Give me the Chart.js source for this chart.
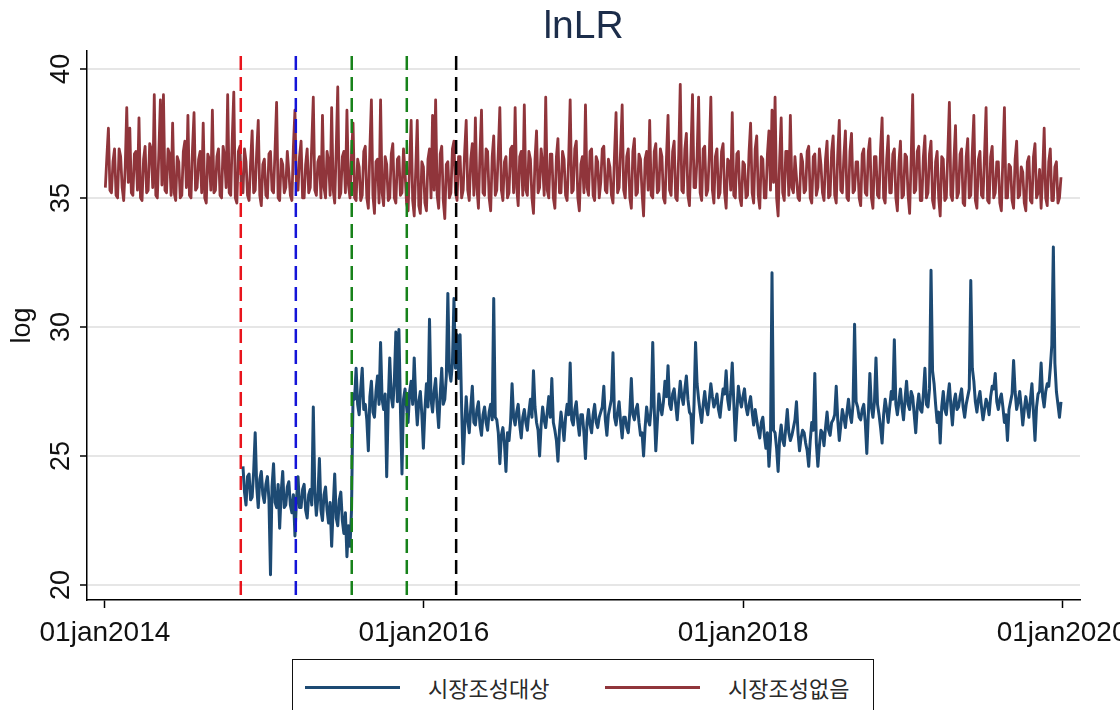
<!DOCTYPE html>
<html>
<head>
<meta charset="utf-8">
<title>lnLR</title>
<script src="https://cdn.jsdelivr.net/npm/chart.js@4.4.1/dist/chart.umd.min.js"></script>
<style>
  html, body { margin: 0; padding: 0; background: #fff; overflow: hidden; }
  #wrap { position: relative; width: 1120px; height: 710px; }
  #chart { position: absolute; left: 0; top: 0; }
  #legend {
    position: absolute; left: 292px; top: 659px; width: 582px; height: 70px;
    box-sizing: border-box; border: 1.5px solid #111; background: #fff;
    font-family: "Noto Sans CJK KR", "Noto Sans", sans-serif; font-size: 22px; color: #2a2a2a;
  }
  .item { position: absolute; top: 13px; height: 28px; line-height: 28px; display: flex; align-items: center; white-space: nowrap; }
  .swatch { display: inline-block; width: 95px; height: 3px; margin-right: 28px; }
</style>
</head>
<body>
<div id="wrap">
  <canvas id="chart" width="1120" height="710"></canvas>
  <div id="legend"></div>
</div>
<script>
// lnLR observations, two per week: a weekly array (Thursdays) and a
// mid-week array (3.5 days later), one pair of arrays per calendar year.
const weekStart = '2014-01-02';
const stepDays = 7;
const midOffset = 3.5;

// 시장조성없음 (no market making), from the first week of 2014
const red2014 = [
  35.4, 37.7, 35.2, 36.9, 35.0, 36.6, 34.9, 38.5, 37.7, 35.1,
  36.8, 38.1, 34.9, 37.0, 35.3, 36.9, 39.0, 35.0, 38.8, 39.0,
  35.2, 36.7, 37.9, 34.9, 36.4, 35.1, 37.2, 38.2, 35.0, 38.3,
  35.4, 36.8, 37.9, 34.8, 36.5, 38.4, 35.3, 36.9, 35.0, 36.6,
  39.0, 35.1, 39.1, 34.8, 37.0, 35.2, 36.4, 34.9, 37.6, 35.3,
  38.0, 34.7
];
const red2014mid = [
  36.6, 35.3, 36.4, 35.1, 36.9, 35.4, 36.2, 35.6, 35.2, 36.7,
  35.3, 35.0, 36.5, 35.2, 37.1, 35.4, 35.1, 36.8, 35.5, 35.3,
  36.9, 35.1, 35.2, 36.6, 35.0, 36.8, 35.4, 35.1, 36.9, 35.3,
  36.5, 35.2, 35.0, 36.7, 35.3, 35.2, 36.6, 35.1, 37.0, 35.4,
  35.2, 37.3, 35.0, 36.8, 35.3, 36.9, 35.1, 36.4, 35.2, 36.8,
  35.1, 36.3
];
const red2015 = [
  36.5, 35.0, 36.8, 35.2, 38.7, 34.9, 36.3, 35.4, 36.0, 34.9,
  38.4, 35.3, 37.2, 35.0, 36.9, 35.4, 38.9, 35.1, 36.6, 38.2,
  35.0, 36.4, 38.5, 34.8, 39.3, 35.2, 36.8, 38.4, 35.0, 37.9,
  34.9, 36.2, 35.1, 37.0, 34.6, 38.8, 34.4, 36.5, 38.8, 34.7,
  36.3, 35.0, 37.1, 34.8, 36.6, 35.2, 36.0, 34.5, 38.0, 34.3,
  38.0, 34.4
];
const red2015mid = [
  35.1, 36.7, 35.3, 36.9, 35.0, 36.5, 35.2, 36.8, 35.1, 37.0,
  35.4, 36.6, 35.0, 36.3, 35.2, 37.1, 35.3, 36.4, 35.0, 35.4,
  36.8, 35.1, 35.3, 36.9, 35.0, 36.6, 35.2, 35.5, 36.7, 35.0,
  36.5, 34.9, 36.8, 35.0, 36.9, 35.1, 36.4, 34.8, 35.2, 36.6,
  34.9, 36.7, 35.0, 36.5, 35.1, 36.9, 34.8, 36.3, 34.9, 36.1,
  34.7, 36.4
];
const red2016 = [
  36.2, 34.5, 36.9, 38.2, 38.8, 34.6, 37.0, 34.2, 36.4, 35.2,
  37.2, 34.9, 36.6, 35.3, 38.0, 34.9, 37.1, 38.1, 34.6, 38.4,
  35.1, 36.8, 34.5, 37.4, 35.3, 38.5, 34.9, 36.6, 35.2, 37.0,
  38.5, 34.7, 36.8, 38.6, 35.1, 36.5, 34.4, 37.6, 35.4, 36.3,
  38.9, 35.0, 36.7, 34.6, 37.3, 35.2, 36.5, 34.9, 38.8, 35.3,
  37.2, 34.5
];
const red2016mid = [
  34.8, 36.5, 35.0, 35.3, 35.1, 36.7, 34.9, 36.3, 35.0, 36.9,
  35.2, 36.6, 35.0, 36.8, 35.3, 36.5, 35.1, 35.4, 36.7, 35.2,
  36.9, 35.0, 36.6, 35.1, 36.8, 35.3, 36.4, 35.0, 36.9, 35.2,
  35.4, 36.6, 35.1, 35.3, 36.8, 35.0, 36.5, 35.2, 36.9, 35.1,
  35.3, 36.7, 35.0, 36.6, 35.2, 36.8, 35.1, 36.5, 35.2, 36.9,
  35.0, 36.3
];
const red2017 = [
  36.6, 38.6, 35.1, 36.9, 34.9, 36.4, 35.6, 37.0, 35.2, 36.2,
  34.8, 38.3, 35.4, 38.6, 35.0, 36.9, 34.6, 37.3, 35.2, 36.5,
  34.3, 36.8, 38.0, 35.0, 37.1, 35.3, 36.6, 34.8, 38.2, 35.1,
  37.2, 34.9, 39.4, 35.2, 37.5, 34.7, 39.0, 35.4, 38.9, 34.9,
  37.0, 35.3, 38.9, 34.8, 36.9, 35.2, 37.1, 34.6, 36.4, 38.3,
  35.0, 36.8
];
const red2017mid = [
  35.2, 35.4, 36.8, 35.1, 36.6, 35.0, 36.9, 35.3, 36.5, 35.1,
  36.7, 35.2, 36.9, 35.3, 36.6, 35.0, 36.8, 35.1, 36.7, 35.2,
  36.5, 35.3, 35.1, 36.8, 35.2, 36.9, 35.0, 36.6, 35.3, 36.8,
  35.0, 36.7, 35.3, 36.9, 35.1, 36.8, 35.4, 36.6, 35.2, 36.9,
  35.1, 36.7, 35.3, 36.6, 35.0, 36.8, 35.2, 36.5, 35.3, 35.1,
  36.7, 35.0
];
const red2018 = [
  34.7, 36.3, 35.1, 37.9, 34.8, 37.4, 34.6, 36.5, 35.0, 37.6,
  38.4, 38.9, 34.3, 38.1, 34.9, 36.8, 38.2, 35.2, 35.8, 34.9,
  36.4, 35.3, 37.0, 34.8, 36.7, 35.4, 36.3, 34.9, 37.2, 35.1,
  37.4, 34.8, 38.0, 35.2, 37.6, 34.9, 37.5, 35.3, 36.4, 34.7,
  36.9, 35.1, 37.3, 34.6, 36.6, 35.0, 38.1, 34.8, 37.4, 35.2,
  36.9, 34.5
];
const red2018mid = [
  36.4, 35.0, 36.8, 35.2, 36.9, 35.1, 36.6, 35.0, 36.7, 35.3,
  35.6, 35.0, 36.5, 35.2, 36.8, 35.1, 35.4, 36.6, 35.0, 36.7,
  35.2, 36.8, 35.0, 36.6, 35.1, 36.9, 35.2, 36.5, 35.0, 36.8,
  35.1, 36.7, 35.3, 36.6, 35.0, 36.8, 35.2, 36.4, 35.0, 36.7,
  35.2, 36.8, 35.0, 36.6, 35.1, 36.9, 35.0, 36.5, 35.2, 36.7,
  35.0, 36.4
];
const red2019 = [
  37.2, 35.1, 36.6, 34.4, 39.0, 35.3, 37.0, 34.9, 37.4, 35.2,
  37.2, 34.6, 36.8, 34.3, 36.5, 35.0, 38.7, 34.9, 37.8, 35.2,
  36.9, 34.7, 37.3, 35.1, 38.2, 34.6, 36.8, 35.0, 38.5, 34.8,
  37.0, 35.2, 36.4, 34.5, 38.5, 35.0, 36.2, 34.6, 37.2, 35.1,
  36.0, 34.5, 36.6, 34.8, 37.1, 35.2, 34.6, 37.7, 34.7, 36.9,
  34.9, 36.4, 35.0
];
const red2019mid = [
  35.0, 36.7, 35.1, 36.5, 35.2, 36.8, 34.9, 36.6, 35.0, 36.7,
  34.9, 36.4, 35.0, 36.6, 34.9, 36.8, 35.1, 36.5, 35.0, 36.7,
  34.8, 36.6, 35.0, 36.8, 34.9, 36.5, 35.1, 36.7, 34.9, 36.6,
  35.0, 36.4, 34.8, 36.6, 35.0, 36.3, 34.9, 36.5, 35.0, 36.2,
  34.8, 36.4, 34.9, 36.6, 35.0, 36.1, 35.9, 35.0, 36.4, 34.9,
  36.2, 34.8, 35.8
];

// 시장조성대상 (market-making targets), observed from mid-November 2014
const blueStart = '2014-11-13';
const blue2014 = [24.6, 23.1, 24.3, 23.4, 25.9, 23.0, 24.4];
const blue2014mid = [23.6, 24.2, 23.3, 24.4, 23.8, 24.1, 23.5];
const blue2015 = [
  23.2, 24.2, 20.4, 24.7, 23.0, 22.2, 24.4, 23.1, 24.0, 22.8,
  21.9, 24.2, 23.0, 23.9, 22.6, 23.7, 26.9, 22.7, 24.9, 22.5,
  23.8, 22.4, 21.5, 24.3, 22.3, 23.6, 22.0, 21.1, 21.5, 27.4,
  28.4, 26.6, 28.4, 27.0, 25.2, 27.9, 26.5, 28.1, 29.4, 26.8,
  24.2, 28.8, 26.9, 29.8, 29.9, 24.3, 27.6, 26.3, 27.9, 28.8,
  26.2, 27.5
];
const blue2015mid = [
  23.9, 23.3, 23.8, 23.2, 23.9, 23.6, 23.0, 23.8, 23.1, 23.5,
  23.3, 23.0, 23.7, 22.9, 23.5, 23.1, 23.6, 23.4, 22.9, 23.5,
  22.9, 23.2, 23.0, 22.6, 23.3, 22.5, 22.8, 22.3, 22.9, 27.2,
  27.0, 27.6, 26.8, 26.4, 27.3, 26.7, 27.5, 27.0, 27.2, 27.4,
  27.0, 27.3, 27.9, 27.1, 26.8, 27.2, 26.9, 27.5, 27.0, 27.2,
  27.1, 26.6
];
const blue2016 = [
  25.3, 27.8, 30.3, 26.7, 28.0, 26.1, 28.4, 27.2, 31.3, 27.9,
  31.1, 29.7, 29.7, 24.7, 27.3, 25.9, 27.7, 26.2, 27.1, 25.8,
  26.9, 26.0, 27.0, 31.1, 26.4, 24.7, 26.1, 24.4, 25.6, 27.8,
  26.2, 27.0, 25.7, 26.8, 26.0, 27.2, 28.3, 26.3, 25.0, 26.9,
  26.1, 27.3, 28.0, 26.0, 24.8, 26.7, 25.6, 27.0, 28.6, 26.2,
  27.1, 25.8
];
const blue2016mid = [
  26.8, 26.9, 27.2, 27.5, 26.9, 27.4, 27.0, 28.1, 28.3, 28.6,
  28.4, 28.0, 26.9, 26.1, 26.4, 26.9, 26.3, 26.8, 26.2, 26.6,
  26.3, 26.7, 26.4, 26.5, 25.9, 25.8, 25.5, 25.9, 26.3, 26.5,
  26.7, 26.2, 26.5, 26.3, 26.7, 26.5, 26.9, 26.0, 26.2, 26.4,
  26.7, 26.5, 26.3, 25.6, 26.0, 26.2, 26.5, 26.6, 26.4, 26.8,
  26.3, 26.6
];
const blue2017 = [
  26.6, 24.9, 26.8, 25.9, 27.0, 26.1, 26.7, 27.7, 25.8, 26.9,
  29.0, 26.2, 27.1, 25.7, 26.5, 25.9, 28.0, 26.4, 27.0, 25.8,
  25.0, 26.9, 26.2, 29.4, 25.2, 27.4, 26.6, 27.9, 28.5, 26.8,
  27.6, 26.4, 27.9, 27.0, 28.1, 26.7, 25.5, 29.4, 27.2, 26.3,
  27.5, 26.6, 27.8, 26.9, 27.4, 26.5, 27.6, 28.3, 26.8, 28.6,
  25.6, 27.7
];
const blue2017mid = [
  25.9, 26.3, 26.2, 26.6, 26.3, 26.5, 26.9, 26.4, 26.6, 27.2,
  26.5, 26.7, 26.3, 26.5, 26.1, 26.7, 26.6, 26.8, 26.3, 25.9,
  26.1, 26.4, 26.9, 26.8, 26.3, 26.9, 27.1, 27.3, 27.0, 27.4,
  27.0, 27.2, 27.3, 27.6, 27.2, 26.6, 27.0, 27.8, 26.7, 27.0,
  26.9, 27.2, 27.3, 27.1, 26.8, 27.1, 27.4, 27.2, 27.5, 27.1,
  26.7, 27.2
];
const blue2018 = [
  26.9, 27.6, 26.6, 27.3, 26.2, 26.4, 25.7, 26.5, 25.3, 24.6,
  32.1, 25.9, 24.4, 26.2, 25.4, 26.8, 25.6, 26.1, 27.1, 25.2,
  26.0, 25.5, 24.6, 26.3, 28.2, 24.6, 26.0, 25.4, 26.7, 25.8,
  26.4, 27.7, 25.6, 26.8, 26.1, 27.2, 26.3, 30.1, 26.9, 26.4,
  27.0, 25.1, 28.2, 26.5, 28.8, 26.6, 25.5, 27.2, 26.3, 27.5,
  29.5, 26.6
];
const blue2018mid = [
  27.3, 26.9, 27.0, 26.7, 26.8, 26.0, 26.3, 25.8, 25.9, 25.6,
  26.0, 25.3, 25.7, 25.6, 26.1, 25.9, 25.8, 26.4, 25.9, 25.7,
  25.9, 25.2, 25.6, 26.0, 25.5, 25.4, 25.9, 26.1, 26.0, 26.3,
  26.6, 26.4, 26.2, 26.5, 26.7, 26.6, 27.0, 27.1, 26.5, 26.8,
  26.3, 26.6, 26.9, 27.1, 27.0, 26.1, 26.6, 26.8, 26.9, 27.2,
  27.0, 27.1
];
const blue2019 = [
  27.6, 26.4, 27.9, 26.8, 27.3, 25.9, 27.4, 26.7, 28.4, 26.9,
  32.2, 27.8, 26.3, 25.5, 27.5, 26.6, 27.8, 26.2, 27.4, 26.9,
  27.6, 26.5, 27.3, 31.8, 27.9, 26.7, 27.5, 26.4, 27.2, 26.6,
  27.7, 28.2, 26.8, 27.4, 26.3, 25.6, 27.1, 28.7, 26.8, 27.5,
  26.2, 27.3, 26.5, 27.8, 25.6, 27.4, 28.6, 26.9, 27.8, 28.4,
  33.1, 27.5, 26.5
];
const blue2019mid = [
  26.9, 27.2, 27.0, 27.5, 26.6, 26.9, 26.8, 27.4, 27.0, 27.6,
  28.3, 27.0, 26.7, 26.9, 26.8, 27.3, 26.9, 27.1, 26.8, 27.3,
  26.9, 27.0, 27.6, 28.4, 27.1, 27.2, 26.9, 26.8, 27.0, 27.3,
  27.6, 27.1, 27.2, 26.9, 26.6, 26.8, 27.4, 27.5, 27.1, 26.9,
  26.8, 26.9, 27.2, 26.7, 26.9, 27.5, 27.3, 27.5, 27.7, 29.3,
  28.6, 27.0, 27.1
];

// Axis ticks and event dates
const xTickDates = ['2014-01-01', '2016-01-01', '2018-01-01', '2020-01-01'];
const xTickLabels = ['01jan2014', '01jan2016', '01jan2018', '01jan2020'];
const yTicks = [20, 25, 30, 35, 40];
const axisStart = '2013-11-21';
const axisEnd = '2020-02-11';
const yMin = 19.42, yMax = 40.7, lineTop = 40.5;
const eventDates = ['2014-11-08', '2015-03-14', '2015-07-20', '2015-11-23', '2016-03-15'];
const eventColors = ['#e8141c', '#1414d8', '#17821a', '#17821a', '#000000'];

const seriesNames = ['시장조성대상', '시장조성없음'];
const seriesColors = ['#1d4a73', '#90353b'];

// day number counted from 1 Jan 2014
function dayOf(s) {
  const [y, m, d] = s.split('-').map(Number);
  return (Date.UTC(y, m - 1, d) - Date.UTC(2014, 0, 1)) / 86400000;
}
// interleave weekly and mid-week observations into {x, y} points
function toPoints(startDate, weekly, midweek) {
  const d0 = dayOf(startDate);
  const pts = [];
  weekly.forEach((v, i) => {
    pts.push({ x: d0 + i * stepDays, y: v });
    pts.push({ x: d0 + i * stepDays + midOffset, y: midweek[i] });
  });
  return pts;
}

const redWeekly = [].concat(red2014, red2015, red2016, red2017, red2018, red2019);
const redMid = [].concat(red2014mid, red2015mid, red2016mid, red2017mid, red2018mid, red2019mid);
const blueWeekly = [].concat(blue2014, blue2015, blue2016, blue2017, blue2018, blue2019);
const blueMid = [].concat(blue2014mid, blue2015mid, blue2016mid, blue2017mid, blue2018mid, blue2019mid);
const xTickDays = xTickDates.map(dayOf);

Chart.defaults.font.family = '"Liberation Sans", Arial, sans-serif';
Chart.defaults.color = '#111';

// dashed vertical markers for the event dates
const eventLines = {
  id: 'eventLines',
  afterDatasetsDraw(chart) {
    const { ctx, scales: { x, y } } = chart;
    ctx.save();
    ctx.lineWidth = 2.5;
    ctx.setLineDash([14, 7]);
    eventDates.forEach((d, i) => {
      const px = x.getPixelForValue(dayOf(d));
      ctx.strokeStyle = eventColors[i];
      ctx.beginPath();
      ctx.moveTo(px, y.getPixelForValue(lineTop));
      ctx.lineTo(px, y.getPixelForValue(yMin));
      ctx.stroke();
    });
    ctx.restore();
  }
};

new Chart(document.getElementById('chart'), {
  type: 'line',
  data: {
    datasets: [
      { label: seriesNames[0], data: toPoints(blueStart, blueWeekly, blueMid), borderColor: seriesColors[0], borderWidth: 3 },
      { label: seriesNames[1], data: toPoints(weekStart, redWeekly, redMid), borderColor: seriesColors[1], borderWidth: 2.8 }
    ]
  },
  options: {
    responsive: false,
    animation: false,
    parsing: false,
    elements: {
      point: { radius: 0, hoverRadius: 0 },
      line: { tension: 0, borderJoinStyle: 'round', fill: false }
    },
    layout: { padding: { left: 0, right: 40, top: 0, bottom: 0 } },
    plugins: {
      legend: { display: false },
      tooltip: { enabled: false },
      title: {
        display: true, text: 'lnLR', fullSize: false, color: '#1c2d4a',
        font: { size: 39, weight: 'normal' }, padding: { top: 4, bottom: 0 }
      }
    },
    scales: {
      x: {
        type: 'linear',
        min: dayOf(axisStart),
        max: dayOf(axisEnd),
        afterBuildTicks: s => { s.ticks = xTickDays.map(v => ({ value: v })); },
        afterFit: s => { s.height = 110; s.paddingLeft = 0; s.paddingRight = 0; },
        ticks: {
          callback: v => xTickLabels[xTickDays.indexOf(v)],
          font: { size: 28 }, color: '#111', padding: 8,
          maxRotation: 0, minRotation: 0, autoSkip: false
        },
        grid: { display: true, drawOnChartArea: false, drawTicks: true, tickLength: 8, tickColor: '#000', tickWidth: 1.5 },
        border: { display: true, color: '#000', width: 1.5 }
      },
      y: {
        min: yMin,
        max: yMax,
        afterBuildTicks: s => { s.ticks = yTicks.map(v => ({ value: v })); },
        afterFit: s => { s.width = 87; s.paddingTop = 0; s.paddingBottom = 0; },
        ticks: {
          font: { size: 27 }, color: '#111', padding: 3,
          minRotation: 90, maxRotation: 90, crossAlign: 'center'
        },
        grid: { color: '#e6e6e6', lineWidth: 2, drawTicks: true, tickLength: 7, tickColor: '#000', tickWidth: 1.5 },
        border: { display: true, color: '#000', width: 1.5 },
        title: { display: true, text: 'log', font: { size: 27 }, color: '#111', padding: { top: 6, bottom: 0 } }
      }
    }
  },
  plugins: [eventLines]
});

// legend box under the plot
const legend = document.getElementById('legend');
const itemLeft = [12, 312];
seriesNames.forEach((name, i) => {
  const item = document.createElement('div');
  item.className = 'item';
  item.style.left = itemLeft[i] + 'px';
  const sw = document.createElement('span');
  sw.className = 'swatch';
  sw.style.background = seriesColors[i];
  const tx = document.createElement('span');
  tx.textContent = name;
  item.appendChild(sw);
  item.appendChild(tx);
  legend.appendChild(item);
});
</script>
</body>
</html>
